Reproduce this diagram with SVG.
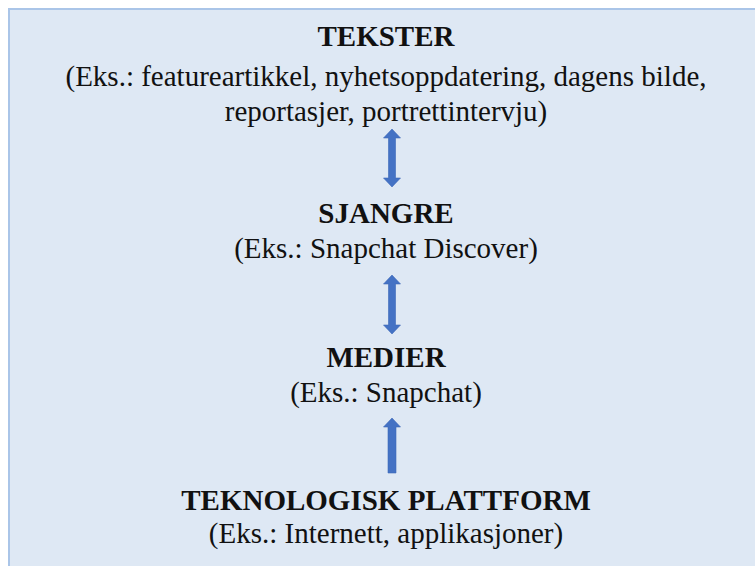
<svg xmlns="http://www.w3.org/2000/svg" width="755" height="566" viewBox="0 0 755 566">
  <defs>
    <style>
      .bg { fill: #dee8f4; stroke: #aac5e8; stroke-width: 2; }
      text { font-family: 'Liberation Serif', 'DejaVu Serif', serif; font-size: 29px; fill: #111; text-anchor: middle; }
      .title { font-weight: bold; }
      .arrow { fill: #4472c4; stroke: #3d68b8; stroke-width: 0.6; }
    </style>
  </defs>
  <rect x="0" y="0" width="755" height="566" fill="#ffffff"/>
  <rect class="bg" x="9" y="9" width="760" height="570"/>

  <g id="tekster">
    <text class="title" x="386" y="46">TEKSTER</text>
    <text class="sub" x="386" y="86">(Eks.: featureartikkel, nyhetsoppdatering, dagens bilde,</text>
    <text class="sub" x="386" y="121">reportasjer, portrettintervju)</text>
  </g>
  <g id="sjangre">
    <text class="title" x="386" y="223">SJANGRE</text>
    <text class="sub" x="386" y="258">(Eks.: Snapchat Discover)</text>
  </g>
  <g id="medier">
    <text class="title" x="386" y="367">MEDIER</text>
    <text class="sub" x="386" y="402">(Eks.: Snapchat)</text>
  </g>
  <g id="plattform">
    <text class="title" x="386" y="510">TEKNOLOGISK PLATTFORM</text>
    <text class="sub" x="386" y="543">(Eks.: Internett, applikasjoner)</text>
  </g>

  <g id="connectors">
    <path class="arrow" d="M392,129 L400.5,138 L395.5,138 L395.5,178 L400.5,178 L392,187 L383.5,178 L388.5,178 L388.5,138 L383.5,138 Z"/>
    <path class="arrow" d="M392,275 L400.5,284 L395.5,284 L395.5,325 L400.5,325 L392,334 L383.5,325 L388.5,325 L388.5,284 L383.5,284 Z"/>
    <path class="arrow" d="M392,418 L400.5,427 L396,427 L396,473 L388,473 L388,427 L383.5,427 Z"/>
  </g>
</svg>
